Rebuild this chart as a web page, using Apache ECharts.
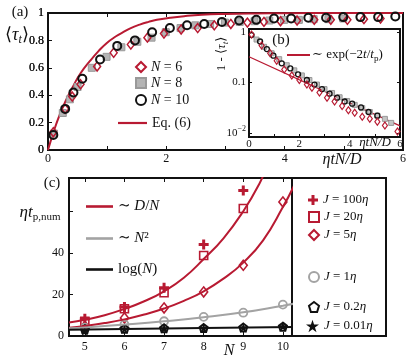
<!DOCTYPE html>
<html>
<head>
<meta charset="utf-8">
<script src="https://cdn.jsdelivr.net/npm/echarts@6/dist/echarts.min.js"></script>
<style>
  html, body { margin: 0; padding: 0; background: #fff; }
  #wrap { position: relative; width: 409px; height: 357px; }
  #panelA { position: absolute; left: 0; top: 0; width: 409px; height: 170px; z-index: 1; }
  #panelB { position: absolute; left: 200px; top: 20px; width: 209px; height: 135px; z-index: 2; }
  #panelC { position: absolute; left: 0; top: 170px; width: 409px; height: 187px; z-index: 1; }
</style>
</head>
<body>
<div id="wrap">
  <div id="panelA"></div>
  <div id="panelB"></div>
  <div id="panelC"></div>
</div>
<script>
// (a) <tau_t> against eta t N / D
const aTicks = [0, 0.2, 0.4, 0.6, 0.8, 1];
const aX6 = [0.09, 0.29, 0.41, 0.55, 0.83, 1.11, 1.40, 1.68, 1.96, 2.25, 2.53, 2.81, 3.09, 3.37, 3.65, 3.93, 4.21, 4.50, 4.78, 5.06, 5.34, 5.62];
const aY6 = [0.13, 0.30, 0.39, 0.48, 0.61, 0.71, 0.77, 0.82, 0.85, 0.88, 0.89, 0.91, 0.92, 0.93, 0.935, 0.94, 0.945, 0.95, 0.95, 0.95, 0.955, 0.96];
const aX8 = [0.10, 0.25, 0.37, 0.50, 0.74, 0.99, 1.24, 1.51, 1.75, 1.99, 2.24, 2.49, 2.74, 2.99, 3.24, 3.49, 3.74, 3.99, 4.24, 4.49, 4.74, 4.99];
const aY8 = [0.12, 0.27, 0.37, 0.46, 0.60, 0.68, 0.75, 0.79, 0.82, 0.86, 0.89, 0.91, 0.92, 0.93, 0.935, 0.94, 0.945, 0.95, 0.95, 0.955, 0.955, 0.96];
const aX10 = [0.09, 0.29, 0.43, 0.58, 0.88, 1.17, 1.47, 1.76, 2.06, 2.35, 2.64, 2.94, 3.23, 3.52, 3.82, 4.11, 4.40, 4.70, 4.99, 5.28, 5.58, 5.87];
const aY10 = [0.11, 0.30, 0.42, 0.52, 0.66, 0.76, 0.80, 0.86, 0.89, 0.91, 0.92, 0.935, 0.945, 0.95, 0.96, 0.96, 0.965, 0.965, 0.97, 0.97, 0.97, 0.975];
const eqX = [0, 0.1, 0.2, 0.3, 0.43, 0.55, 0.71, 0.85, 0.99, 1.15, 1.27, 1.4, 1.55, 1.7, 1.84, 2.06, 2.3, 2.6, 3.0, 3.5, 4, 5, 6];
const eqY = [0, 0.14, 0.26, 0.36, 0.47, 0.56, 0.65, 0.72, 0.78, 0.83, 0.86, 0.89, 0.915, 0.935, 0.95, 0.965, 0.977, 0.987, 0.993, 0.997, 0.999, 1, 1];

// (b) inset, 1 - <tau_t> on log scale
const bX6 = [0.1, 0.5, 0.84, 1.1, 1.4, 1.7, 2.0, 2.3, 2.5, 2.8, 3.1, 3.4, 3.7, 3.95, 4.2, 4.5, 4.8, 5.1, 5.4, 5.9];
const bY6 = [0.89, 0.54, 0.38, 0.27, 0.18, 0.138, 0.112, 0.091, 0.079, 0.063, 0.050, 0.042, 0.034, 0.028, 0.025, 0.021, 0.019, 0.0166, 0.0141, 0.0107];
const bX8 = [0.3, 0.6, 0.9, 1.2, 1.5, 1.8, 2.1, 2.4, 2.7, 3.0, 3.3, 3.6, 3.9, 4.2, 4.5, 4.8, 5.1, 5.4, 5.65];
const bY8 = [0.71, 0.51, 0.38, 0.29, 0.22, 0.174, 0.138, 0.112, 0.091, 0.074, 0.062, 0.051, 0.043, 0.036, 0.031, 0.026, 0.022, 0.019, 0.0158];
const bX10 = [0.1, 0.44, 0.71, 0.97, 1.3, 1.64, 1.95, 2.3, 2.6, 2.9, 3.2, 3.5, 3.8, 4.1, 4.45, 4.75, 5.1];
const bY10 = [0.87, 0.65, 0.46, 0.34, 0.24, 0.19, 0.145, 0.112, 0.091, 0.074, 0.060, 0.050, 0.042, 0.038, 0.032, 0.026, 0.022];
const bFitX = [0, 6];
const bFitY = [0.324, 0.0138];

// (c) eta t_p,num against N
const nVals = [5, 6, 7, 8, 9, 10];
const tp100 = [8.3, 14, 23.2, 44, 70, null];
const tp20 = [7.1, 13.1, 20.8, 38.7, 61.3, null];
const tp5 = [4.7, 8.7, 13.5, 21.2, 34, 64.5];
const tp1 = [4.0, 5.5, 7.1, 9.2, 11.2, 15.1];
const tp02 = [3.3, 3.5, 3.7, 3.8, 4.1, 4.5];
const tp001 = [2.5, 3.4, 3.6, 3.8, 4.0, 4.6];
const fitAX = [4.6, 5, 5.5, 6, 6.5, 7, 7.5, 8, 8.5, 9, 9.4, 9.6];
const fitAY = [6.5, 7.8, 10, 13, 16.7, 21.5, 28, 37, 47, 60, 73, 82];
const fitBX = [4.6, 5, 5.5, 6, 6.5, 7, 7.5, 8, 8.5, 9, 9.5, 10, 10.3];
const fitBY = [4.0, 4.8, 6.2, 8.0, 10.3, 13.2, 16.9, 21.5, 27.6, 35.3, 46, 62, 73];
const fitN2X = [4.6, 5, 6, 7, 8, 9, 10, 10.3];
const fitN2Y = [3.7, 4.1, 5.5, 7.1, 9.0, 11.4, 14.6, 15.6];
const fitLogX = [4.6, 6, 8, 10.3];
const fitLogY = [3.0, 3.4, 3.8, 4.3];

const RED = '#b81a32';
const GRAY = '#a3a3a3';
const BLACK = '#111';
const FONT = '"Liberation Serif", "DejaVu Serif", serif';
const CLEAR = 'rgba(255,255,255,0)';

const pairs = (xs, ys) => xs.map((x, i) => [x, ys[i]]).filter(p => p[1] != null);

const rich = (size) => ({
  i: { fontFamily: FONT, fontStyle: 'italic', fontSize: size, color: BLACK, lineHeight: 14 },
  r: { fontFamily: FONT, fontSize: size, color: BLACK, lineHeight: 14 }
});

const tickStyle = { show: true, inside: true, length: 4, lineStyle: { color: BLACK } };
const noLine = { show: false, onZero: false };
const labelStyle = (size, margin) => ({ fontFamily: FONT, fontSize: size, color: BLACK, margin: margin });
const plainText = (x, y, text, font, extra) =>
  Object.assign({ type: 'text', z: 20, x: x, y: y, style: { text: text, font: font + FONT, fill: BLACK, align: 'center', verticalAlign: 'middle' } }, extra || {});

function legendItem(name, label, left, cy, w, h, size, icon) {
  const item = {
    data: [name], left: left, top: cy - 7, orient: 'vertical', padding: 0,
    itemWidth: w, itemHeight: h, selectedMode: false,
    formatter: () => label,
    textStyle: { fontFamily: FONT, fontSize: size, color: BLACK, lineHeight: 14, rich: rich(size) }
  };
  if (icon) item.icon = icon;
  return item;
}

const isDecade = v => Math.abs(Math.log10(v) - Math.round(Math.log10(v))) < 0.01;

// ---------- panel (a) ----------
const chartA = echarts.init(document.getElementById('panelA'));
const optionA = {
  animation: false,
  backgroundColor: 'transparent',
  grid: { left: 48, top: 13, width: 355, height: 137, show: true, borderColor: BLACK, borderWidth: 2, backgroundColor: CLEAR },
  xAxis: [
    { type: 'value', min: 0, max: 6, interval: 1, axisLine: noLine, splitLine: { show: false },
      axisTick: tickStyle, axisLabel: Object.assign(labelStyle(12, 3), { formatter: v => (v % 2 === 0 ? String(v) : '') }) },
    { type: 'value', position: 'top', min: 0, max: 6, interval: 1, axisLine: noLine,
      splitLine: { show: false }, axisTick: tickStyle, axisLabel: { show: false } }
  ],
  yAxis: [
    { type: 'value', min: 0, max: 1, interval: 0.2, axisLine: noLine, splitLine: { show: false },
      axisTick: tickStyle, axisLabel: Object.assign(labelStyle(12, 4), { formatter: v => String(Math.round(v * 10) / 10) }) }
  ],
  legend: [
    legendItem('N = 6', '{i|N} = 6', 135, 67, 10, 10, 14),
    legendItem('N = 8', '{i|N} = 8', 135, 83, 10, 10, 14),
    legendItem('N = 10', '{i|N} = 10', 135, 100, 10, 10, 14),
    legendItem('Eq. (6)', 'Eq. (6)', 118, 123, 29, 2.2, 14, 'rect')
  ],
  series: [
    { name: 'Eq. (6)', type: 'line', data: pairs(eqX, eqY), smooth: true,
      symbol: 'none', lineStyle: { color: RED, width: 2 }, itemStyle: { color: RED }, z: 2 },
    { name: 'N = 8', type: 'scatter', data: pairs(aX8, aY8), symbol: 'rect', symbolSize: 7,
      itemStyle: { color: '#b4b4b4', borderColor: '#999', borderWidth: 1, opacity: 1 }, z: 3 },
    { name: 'N = 6', type: 'scatter', data: pairs(aX6, aY6), symbol: 'diamond', symbolSize: [7, 9],
      itemStyle: { color: CLEAR, borderColor: RED, borderWidth: 1.5, opacity: 1 }, z: 4 },
    { name: 'N = 10', type: 'scatter', data: pairs(aX10, aY10), symbol: 'circle', symbolSize: 8,
      itemStyle: { color: CLEAR, borderColor: BLACK, borderWidth: 2, opacity: 1 }, z: 5 }
  ],
  graphic: [
    plainText(20, 12, '(a)', '15px '),
    { type: 'text', z: 20, x: 17, y: 35, style: {
        text: '{m|⟨}{mi|τ}{s|t}{m|⟩}', align: 'center', verticalAlign: 'middle',
        rich: {
          m: { fontFamily: FONT, fontSize: 18, lineHeight: 22, fill: BLACK },
          mi: { fontFamily: FONT, fontStyle: 'italic', fontSize: 18, lineHeight: 22, fill: BLACK },
          s: { fontFamily: FONT, fontStyle: 'italic', fontSize: 12, lineHeight: 12, verticalAlign: 'bottom', fill: BLACK }
        } } },
    plainText(342, 160, 'ηtN/D', 'italic 16px ')
  ]
};
chartA.setOption(optionA);

// the y tick labels of (a) once more, placed through the axis, in case the axis drops them
const aLeft = chartA.convertToPixel({ xAxisIndex: 0 }, 0);
aTicks.forEach(v => {
  const y = chartA.convertToPixel({ yAxisIndex: 0 }, v);
  if (isFinite(y) && isFinite(aLeft)) {
    optionA.graphic.push({ type: 'text', z: 25, x: aLeft - 4, y: y,
      style: { text: String(v), font: '12px ' + FONT, fill: BLACK, align: 'right', verticalAlign: 'middle' } });
  }
});
chartA.setOption(optionA, true);

// ---------- inset (b) ----------
const chartB = echarts.init(document.getElementById('panelB'));
chartB.setOption({
  animation: false,
  backgroundColor: 'transparent',
  grid: { left: 49, top: 9, width: 151, height: 108, show: true, borderColor: BLACK, borderWidth: 2, backgroundColor: '#fff' },
  xAxis: [
    { type: 'value', min: 0, max: 6, interval: 1, axisLine: noLine, splitLine: { show: false },
      axisTick: Object.assign({}, tickStyle, { length: 3 }),
      axisLabel: Object.assign(labelStyle(11, 2), { formatter: v => (v % 2 === 0 ? String(v) : '') }) }
  ],
  yAxis: [
    { type: 'log', logBase: 10, min: 0.0083, max: 1.15, axisLine: noLine, splitLine: { show: false },
      axisTick: Object.assign({}, tickStyle, { length: 3 }),
      axisLabel: Object.assign(labelStyle(11, 3), {
        showMaxLabel: false, showMinLabel: false,
        formatter: v => {
          if (!isDecade(v)) return '';
          const p = Math.round(Math.log10(v));
          return p === 0 ? '1' : p === -1 ? '0.1' : '{b|10}{p|−2}';
        },
        rich: { b: { fontFamily: FONT, fontSize: 11, color: BLACK }, p: { fontFamily: FONT, fontSize: 8, color: BLACK, verticalAlign: 'top', lineHeight: 16 } }
      }) },
    { type: 'log', logBase: 10, position: 'right', min: 0.0083, max: 1.15, axisLine: noLine,
      splitLine: { show: false }, axisTick: Object.assign({}, tickStyle, { length: 3 }), axisLabel: { show: false } }
  ],
  series: [
    { name: 'fit b', type: 'line', data: pairs(bFitX, bFitY), symbol: 'none', lineStyle: { color: RED, width: 1.3 }, z: 2 },
    { name: 'b8', type: 'scatter', data: pairs(bX8, bY8), symbol: 'rect', symbolSize: 5,
      itemStyle: { color: '#c4c4c4', borderColor: '#999', borderWidth: 1, opacity: 1 }, z: 3 },
    { name: 'b10', type: 'scatter', data: pairs(bX10, bY10), symbol: 'circle', symbolSize: 5,
      itemStyle: { color: CLEAR, borderColor: BLACK, borderWidth: 1.3, opacity: 1 }, z: 4 },
    { name: 'b6', type: 'scatter', data: pairs(bX6, bY6), symbol: 'diamond', symbolSize: [5, 7],
      itemStyle: { color: CLEAR, borderColor: RED, borderWidth: 1.2, opacity: 1 }, z: 5 }
  ],
  graphic: [
    plainText(81, 20, '(b)', '15px '),
    { type: 'line', z: 20, shape: { x1: 87, y1: 35, x2: 110, y2: 35 }, style: { stroke: RED, lineWidth: 2 } },
    { type: 'text', z: 20, x: 112, y: 35, style: {
        text: '{m|∼ exp(−2}{i|t}{m|/}{i|t}{s|p}{m|)}', align: 'left', verticalAlign: 'middle',
        rich: {
          m: { fontFamily: FONT, fontSize: 13, lineHeight: 16, fill: BLACK },
          i: { fontFamily: FONT, fontStyle: 'italic', fontSize: 13, lineHeight: 16, fill: BLACK },
          s: { fontFamily: FONT, fontSize: 9, lineHeight: 9, verticalAlign: 'bottom', fill: BLACK }
        } } },
    { type: 'text', z: 20, x: 22, y: 34, rotation: Math.PI / 2, style: {
        text: '{m|1 - ⟨}{i|τ}{s|t}{m|⟩}', align: 'center', verticalAlign: 'middle',
        rich: {
          m: { fontFamily: FONT, fontSize: 13, lineHeight: 16, fill: BLACK },
          i: { fontFamily: FONT, fontStyle: 'italic', fontSize: 13, lineHeight: 16, fill: BLACK },
          s: { fontFamily: FONT, fontStyle: 'italic', fontSize: 9, lineHeight: 9, verticalAlign: 'bottom', fill: BLACK }
        } } },
    plainText(175, 123, 'ηtN/D', 'italic 13px ')
  ]
});

// ---------- panel (c) ----------
const chartC = echarts.init(document.getElementById('panelC'));
chartC.setOption({
  animation: false,
  backgroundColor: 'transparent',
  grid: { left: 69, top: 8, width: 223, height: 158, show: true, borderColor: BLACK, borderWidth: 2, backgroundColor: CLEAR },
  xAxis: [
    { type: 'value', min: 4.6, max: 10.23, axisLine: noLine, splitLine: { show: false },
      axisTick: tickStyle, axisLabel: Object.assign(labelStyle(12, 5), { formatter: v => (Number.isInteger(v) ? String(v) : '') }) },
    { type: 'value', position: 'top', min: 4.6, max: 10.23, axisLine: noLine,
      splitLine: { show: false }, axisTick: tickStyle, axisLabel: { show: false } }
  ],
  yAxis: [
    { type: 'value', min: 0, max: 76, interval: 20, z: 11, axisLine: noLine, splitLine: { show: false },
      axisTick: tickStyle, axisLabel: Object.assign(labelStyle(12, 5), { formatter: v => (v <= 40 ? String(v) : '') }) }
  ],
  legend: [
    legendItem('∼ D/N', '∼ {i|D}/{i|N}', 86, 36, 27, 2.6, 15, 'rect'),
    legendItem('∼ N²', '∼ {i|N}²', 86, 68, 27, 2.6, 15, 'rect'),
    legendItem('log(N)', 'log({i|N})', 86, 99, 27, 2.6, 15, 'rect'),
    legendItem('J = 100η', '{i|J} = 100{i|η}', 308, 30, 10, 10, 13),
    legendItem('J = 20η', '{i|J} = 20{i|η}', 308, 47, 10, 10, 13),
    legendItem('J = 5η', '{i|J} = 5{i|η}', 308, 65, 10, 10, 13),
    legendItem('J = 1η', '{i|J} = 1{i|η}', 308, 107, 10, 10, 13),
    legendItem('J = 0.2η', '{i|J} = 0.2{i|η}', 308, 137, 10, 10, 13),
    legendItem('J = 0.01η', '{i|J} = 0.01{i|η}', 306, 156, 13, 13, 13)
  ],
  series: [
    { name: '∼ D/N', type: 'line', data: pairs(fitAX, fitAY), smooth: true, symbol: 'none',
      lineStyle: { color: RED, width: 2 }, itemStyle: { color: RED } },
    { name: 'fit J5', type: 'line', data: pairs(fitBX, fitBY), smooth: true, symbol: 'none',
      lineStyle: { color: RED, width: 2 } },
    { name: '∼ N²', type: 'line', data: pairs(fitN2X, fitN2Y), smooth: true, symbol: 'none',
      lineStyle: { color: GRAY, width: 2 }, itemStyle: { color: GRAY } },
    { name: 'log(N)', type: 'line', data: pairs(fitLogX, fitLogY), smooth: true, symbol: 'none',
      lineStyle: { color: BLACK, width: 2 }, itemStyle: { color: BLACK } },
    { name: 'J = 100η', type: 'scatter', data: pairs(nVals, tp100),
      symbol: 'path://M3.5,0h3v3.5h3.5v3h-3.5v3.5h-3v-3.5h-3.5v-3h3.5z', symbolSize: 10, itemStyle: { color: RED, opacity: 1 } },
    { name: 'J = 20η', type: 'scatter', data: pairs(nVals, tp20), symbol: 'rect', symbolSize: 8,
      itemStyle: { color: CLEAR, borderColor: RED, borderWidth: 1.6, opacity: 1 } },
    { name: 'J = 5η', type: 'scatter', data: pairs(nVals, tp5), symbol: 'diamond', symbolSize: [8, 10],
      itemStyle: { color: CLEAR, borderColor: RED, borderWidth: 1.6, opacity: 1 } },
    { name: 'J = 1η', type: 'scatter', data: pairs(nVals, tp1), symbol: 'circle', symbolSize: 8,
      itemStyle: { color: CLEAR, borderColor: GRAY, borderWidth: 1.8, opacity: 1 } },
    { name: 'J = 0.2η', type: 'scatter', data: pairs(nVals, tp02),
      symbol: 'path://M5,0L10,3.8L8.1,10L1.9,10L0,3.8Z', symbolSize: 8,
      itemStyle: { color: CLEAR, borderColor: BLACK, borderWidth: 2, opacity: 1 } },
    { name: 'J = 0.01η', type: 'scatter', data: pairs(nVals, tp001),
      symbol: 'path://M5,0L6.2,3.6L10,3.6L6.9,5.9L8.1,9.5L5,7.3L1.9,9.5L3.1,5.9L0,3.6L3.8,3.6Z', symbolSize: 10,
      itemStyle: { color: BLACK, opacity: 1 } }
  ],
  graphic: [
    { type: 'rect', z: 1, shape: { x: 292, y: 8, width: 94, height: 158 }, style: { fill: '#fff', stroke: BLACK, lineWidth: 2 } },
    plainText(52, 13, '(c)', '15px '),
    { type: 'text', z: 20, x: 40, y: 43, style: {
        text: '{i|ηt}{s|p,num}', align: 'center', verticalAlign: 'middle',
        rich: {
          i: { fontFamily: FONT, fontStyle: 'italic', fontSize: 17, lineHeight: 20, fill: BLACK },
          s: { fontFamily: FONT, fontSize: 11, lineHeight: 11, verticalAlign: 'bottom', fill: BLACK }
        } } },
    plainText(229, 181, 'N', 'italic 16px ')
  ]
});

window.addEventListener('resize', () => { chartA.resize(); chartB.resize(); chartC.resize(); });
</script>
</body>
</html>
